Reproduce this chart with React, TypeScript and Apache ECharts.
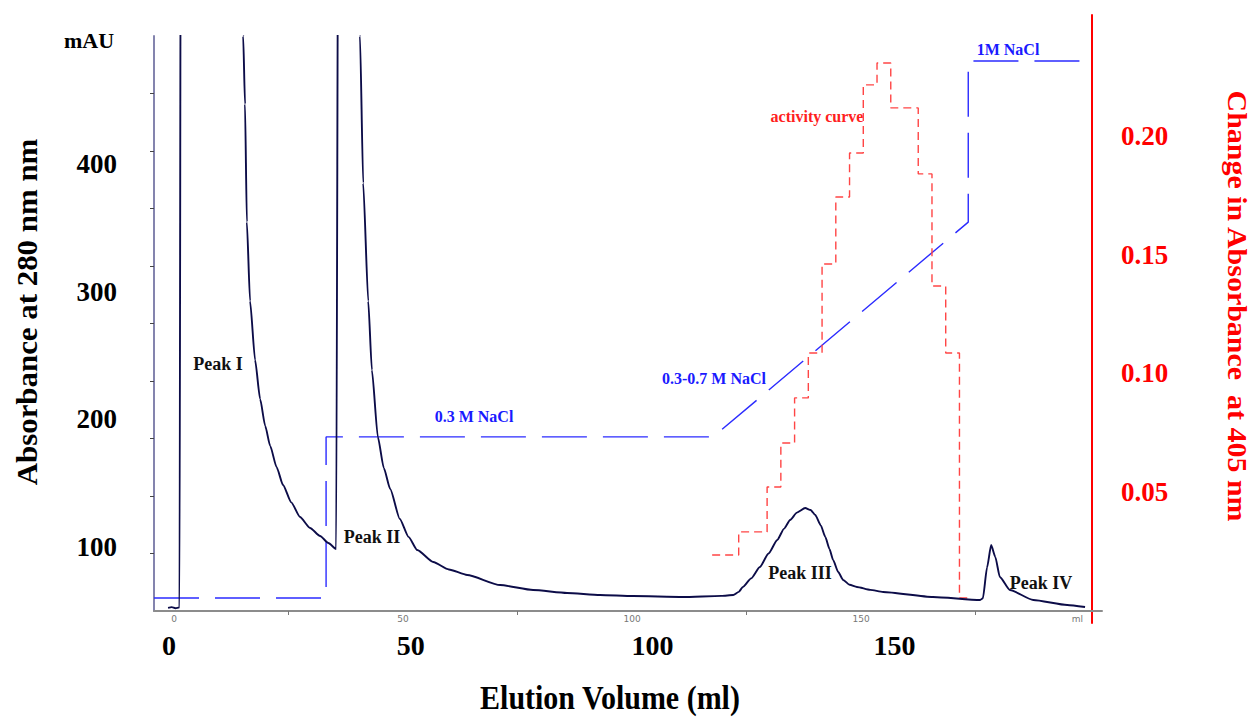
import React, { useEffect, useRef } from "react";
import * as echarts from "echarts";

// ---- data ----
// UV trace at 280 nm: [elution volume ml, mAU]
const traceVolume = [
  -1.3, -0.5, 0.3, 1.2, 1.5, 14.7, 15.1, 15.5, 15.9, 16.6, 17.7, 18.8, 19.9, 21.0, 22.4, 23.8, 25.6,
  27.5, 29.7, 31.9, 33.7, 35.4,
  35.9, 40.2, 40.6, 41.3, 42.4, 43.2, 44.5, 45.8, 47.2, 49.3, 51.2, 53.1, 56.6, 60.0, 64.0, 71.2,
  78.4, 85.8, 93.0, 100.2, 111.1, 119.5, 122.1, 123.3, 124.2, 126.0, 127.9, 129.8, 131.7, 133.2,
  134.5, 136.0, 137.8, 139.0, 140.0, 141.2, 142.2, 143.1, 143.9, 145.0, 146.1, 147.5, 149.1, 152.0,
  154.8, 165.7, 176.0, 176.6, 177.5, 178.4, 179.3, 180.3, 182.5, 187.6, 195.0, 198.9,
];
const traceMAU = [
  52.5, 53.0, 52.2, 52.8, 700, 700, 500, 446.7, 354.4, 292.6, 246.4, 215.9, 195.0, 179.1, 162.5, 148.6, 135.0,
  123.6, 115.0, 108.7, 103.2, 98.5,
  700, 700, 500, 384.9, 292.6, 238.6, 186.2, 162.0, 145.5, 122.0, 108.0, 97.7, 88.3, 82.5, 78.2, 70.3,
  66.4, 64.1, 62.5, 61.7, 61.0, 61.8, 62.5, 65.0, 68.8, 75.5, 84.4, 95.0, 105.6, 114.5,
  121.2, 127.0, 130.6, 129.0, 125.1, 117.0, 107.9, 98.5, 89.9, 80.5, 74.3, 70.5, 68.8, 66.5,
  64.9, 61.0, 58.6, 60.0, 84.0, 101.6, 92.3, 76.6, 66.4, 58.6, 54.7, 53.1,
];

// NaCl gradient (M)
const naclVolume = [-4.37, 33.2, 33.2, 117.7, 173.4, 173.4, 198.9];
const naclMolar = [0, 0, 0.3, 0.3, 0.7, 1.0, 1.0];

// activity of fractions (change in absorbance at 405 nm), fraction start volumes
const fractionStart = [
  117.5, 123.3, 129.5, 132.5, 135.5, 138.5, 141.5, 144.5, 147.5, 150.5, 153.5, 156.5, 162.5,
  165.5, 168.5, 171.5, 174.2,
];
const activity = [
  0.0236, 0.0333, 0.0522, 0.0707, 0.0897, 0.1086, 0.1461, 0.1743, 0.1928, 0.2215, 0.2307,
  0.2118, 0.184, 0.1368, 0.1086, 0.0055, 0.0055,
];

// tick labels
const leftLabels = [100, 200, 300, 400];
const leftTicks = [95, 140, 185, 230, 275, 320, 365, 410, 455];
const rightLabels = [0.05, 0.1, 0.15, 0.2];
const smallXLabels = [0, 50, 100, 150, 197.2];
const smallXTicks = [25, 75, 125, 175];
const bigXLabels = [0, 50, 100, 150];

const FONT = "Liberation Serif";

export default function App() {
  const ref = useRef<HTMLDivElement>(null);
  useEffect(() => {
    if (!ref.current) return;
    const chart = echarts.init(ref.current, null, { renderer: "svg" });

    const trace = traceVolume.map((v, i) => [v, traceMAU[i]]);
    const nacl = naclVolume.map((v, i) => [v, naclMolar[i]]);
    const act = fractionStart.map((v, i) => [v, activity[i]]);

    const text = (t: string, x: number, y: number, size: number, fill: string, extra: any = {}) => ({
      type: "text",
      x,
      y,
      silent: true,
      ...extra,
      style: {
        text: t,
        x: 0,
        y: 0,
        align: "center",
        verticalAlign: "middle",
        fill,
        fontSize: size,
        fontWeight: "bold",
        fontFamily: FONT,
      },
    });

    chart.setOption({
      animation: false,
      textStyle: { fontFamily: FONT },
      grid: [
        { left: 154, right: 157, top: 36, bottom: 108, outerBoundsMode: "none", containLabel: false },
        { left: 154, right: 167, top: 15, bottom: 96, outerBoundsMode: "none", containLabel: false },
      ],
      xAxis: [
        {
          gridIndex: 0,
          type: "value",
          position: "bottom",
          min: -4.37,
          max: 202.6,
          axisLine: { show: true, onZero: false, lineStyle: { color: "#8c8c8c", width: 2 } },
          axisTick: { show: true, customValues: smallXTicks, length: 4, lineStyle: { color: "#777" } },
          axisLabel: {
            customValues: smallXLabels,
            fontSize: 9,
            color: "#777",
            margin: 3,
            fontFamily: "DejaVu Sans",
            formatter: (v: number) => (v > 190 ? "ml" : String(v)),
          },
          splitLine: { show: false },
        },
        {
          gridIndex: 0,
          type: "value",
          position: "bottom",
          min: -3.08,
          max: 192.9,
          axisLine: { show: false, onZero: false },
          axisTick: { show: false },
          axisLabel: {
            customValues: bigXLabels,
            fontSize: 28,
            fontWeight: "bold",
            color: "#000",
            margin: 20,
            fontFamily: FONT,
          },
          splitLine: { show: false },
        },
        {
          gridIndex: 1,
          type: "value",
          min: -4.37,
          max: 200.44,
          show: false,
        },
      ],
      yAxis: [
        {
          gridIndex: 0,
          type: "value",
          position: "left",
          min: 50,
          max: 500,
          axisLine: { show: true, onZero: false, lineStyle: { color: "#8484ae", width: 2 } },
          axisTick: { show: true, customValues: leftTicks, length: 4, lineStyle: { color: "#444" } },
          axisLabel: {
            customValues: leftLabels,
            fontSize: 27,
            fontWeight: "bold",
            color: "#000",
            margin: 37,
            fontFamily: FONT,
          },
          splitLine: { show: false },
        },
        {
          gridIndex: 0,
          type: "value",
          min: -0.0242,
          max: 1.0466,
          show: false,
        },
        {
          gridIndex: 1,
          type: "value",
          position: "right",
          min: -0.00505,
          max: 0.2509,
          axisLine: { show: true, onZero: false, lineStyle: { color: "#ff0000", width: 2 } },
          axisTick: { show: false },
          axisLabel: {
            customValues: rightLabels,
            formatter: (v: number) => v.toFixed(2),
            fontSize: 27,
            fontWeight: "bold",
            color: "#ff0000",
            margin: 29,
            fontFamily: FONT,
          },
          splitLine: { show: false },
        },
      ],
      series: [
        {
          name: "NaCl",
          type: "line",
          xAxisIndex: 0,
          yAxisIndex: 1,
          data: nacl,
          showSymbol: false,
          lineStyle: { color: "#2b2bff", width: 1.4, type: [45, 16] },
          z: 2,
        },
        {
          name: "activity",
          type: "line",
          xAxisIndex: 2,
          yAxisIndex: 2,
          step: "end",
          data: act,
          showSymbol: false,
          lineStyle: { color: "#ff4545", width: 1.4, type: [8, 5] },
          z: 2,
        },
        {
          name: "A280",
          type: "line",
          xAxisIndex: 0,
          yAxisIndex: 0,
          data: trace,
          showSymbol: false,
          clip: true,
          smooth: 0.2,
          smoothMonotone: "x",
          lineStyle: { color: "#0c0c48", width: 1.9 },
          z: 3,
        },
      ],
      graphic: [
        text("Absorbance at 280 nm nm", 27, 312, 30, "#000", { rotation: Math.PI / 2, scaleX: 1.03 }),
        text("Change in Absorbance  at 405 nm", 1238, 306, 28, "#ff0000", {
          rotation: -Math.PI / 2,
          scaleX: 1.07,
        }),
        text("mAU", 89, 40, 22, "#000"),
        text("Elution Volume (ml)", 610, 698, 30, "#000", { scaleY: 1.1 }),
        text("Peak I", 218, 364, 18, "#111"),
        text("Peak II", 372, 537, 18, "#111"),
        text("Peak III", 800, 573, 18, "#111"),
        text("Peak IV", 1041, 583, 18, "#111"),
        text("0.3 M NaCl", 474, 416, 16, "#1a1aff"),
        text("0.3-0.7 M NaCl", 714, 378, 16, "#1a1aff"),
        text("1M NaCl", 1008, 49, 16, "#1a1aff"),
        text("activity curve", 817, 116, 16, "#ff2020"),
      ],
    });
    return () => chart.dispose();
  }, []);
  return (
    <div
      ref={ref}
      style={{ position: "fixed", left: 0, top: 0, width: 1259, height: 719, background: "#fff" }}
    />
  );
}
